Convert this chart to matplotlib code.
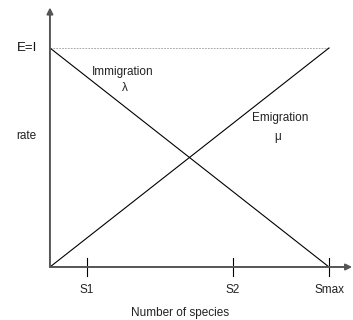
import numpy as np
import matplotlib
matplotlib.use('Agg')
import matplotlib.pyplot as plt

plt.rcParams['font.family'] = ['Liberation Sans', 'DejaVu Sans']

species = [0.0, 1.0]
immigration = [1.0, 0.0]
emigration = [0.0, 1.0]
tick_pos = [0.133, 0.656, 1.0]
tick_labels = ['S1', 'S2', 'Smax']

fig = plt.figure(figsize=(3.53, 3.2), dpi=100)
ax = fig.add_axes([0, 0, 1, 1])
ax.set_xlim(-0.179, 1.086)
ax.set_ylim(-0.242, 1.219)
ax.axis('off')

axis_col = '#555555'
# axes with arrow heads
ax.annotate('', xy=(0, 1.185), xytext=(0, 0),
            arrowprops=dict(arrowstyle='-|>', color=axis_col, lw=1.4,
                            mutation_scale=9, shrinkA=0, shrinkB=0))
ax.annotate('', xy=(1.083, 0), xytext=(0, 0),
            arrowprops=dict(arrowstyle='-|>', color=axis_col, lw=1.4,
                            mutation_scale=9, shrinkA=0, shrinkB=0))

# equilibrium level
ax.plot([0, 1.0], [1.0, 1.0], color='#999999', lw=0.6, ls=(0, (2, 1.5)))

ax.plot(species, immigration, color='black', lw=0.8)
ax.plot(species, emigration, color='black', lw=0.8)

for p, lab in zip(tick_pos, tick_labels):
    ax.plot([p, p], [-0.04, 0.04], color='black', lw=0.8)
    ax.text(p, -0.105, lab, ha='center', va='center', fontsize=8.5, color='#222222')

ax.text(-0.047, 1.0, 'E=I', ha='right', va='center', fontsize=9.5, color='#111111')
ax.text(-0.086, 0.6, 'rate', ha='center', va='center', fontsize=8.5, color='#222222')
ax.text(0.26, 0.89, 'Immigration', ha='center', va='center', fontsize=8.5, color='#222222')
ax.text(0.27, 0.815, '\u03bb', ha='center', va='center', fontsize=8.5, color='#222222')
ax.text(0.824, 0.68, 'Emigration', ha='center', va='center', fontsize=8.5, color='#222222')
ax.text(0.815, 0.595, '\u03bc', ha='center', va='center', fontsize=8.5, color='#222222')
ax.text(0.466, -0.21, 'Number of species', ha='center', va='center', fontsize=8.5, color='#222222')

fig.savefig('out.png', dpi=100)
